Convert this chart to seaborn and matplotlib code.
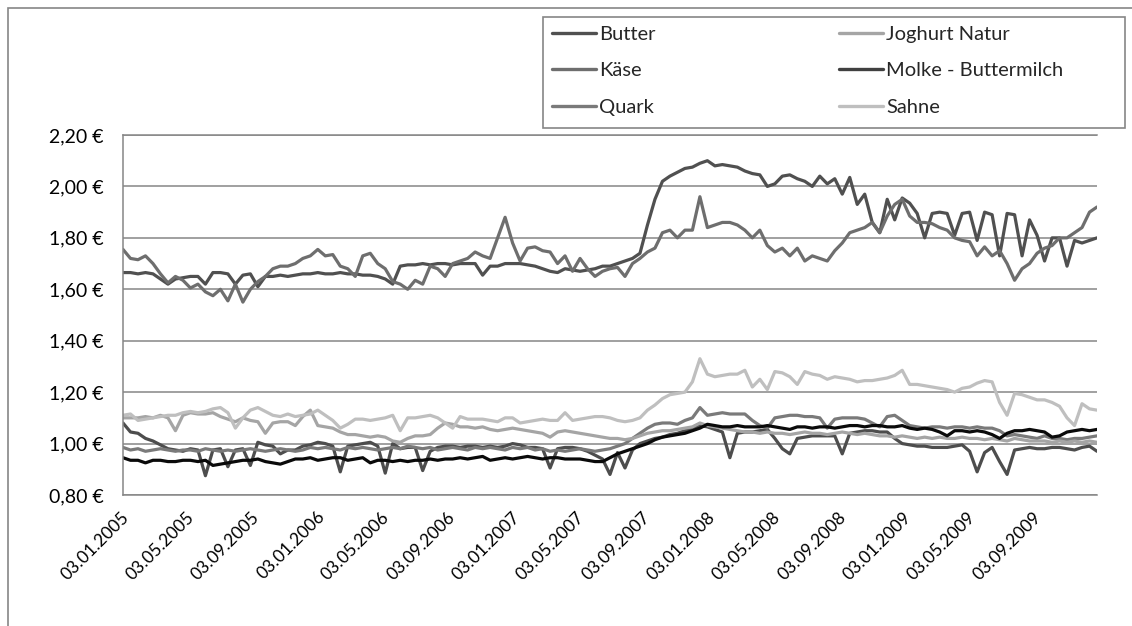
import pandas as pd
import numpy as np
import matplotlib
matplotlib.use("Agg")
import matplotlib.pyplot as plt
import matplotlib.dates as mdates
import matplotlib.transforms as mtransforms
from matplotlib.lines import Line2D
from matplotlib.patches import Rectangle
from matplotlib.ticker import FuncFormatter
import seaborn as sns

# biweekly prices, starting 03.01.2005
start = "2005-01-03"

butter = [
    1.665, 1.665, 1.66, 1.665, 1.66, 1.64, 1.62, 1.64, 1.645, 1.65,
    1.65, 1.62, 1.665, 1.665, 1.66, 1.62, 1.655, 1.66, 1.61, 1.65,
    1.65, 1.655, 1.65, 1.655, 1.66, 1.66, 1.665, 1.66, 1.66, 1.665,
    1.66, 1.66, 1.655, 1.655, 1.65, 1.64, 1.62, 1.69, 1.695, 1.695,
    1.70, 1.695, 1.70, 1.70, 1.695, 1.70, 1.70, 1.70, 1.655, 1.69,
    1.69, 1.70, 1.70, 1.70, 1.695, 1.69, 1.68, 1.67, 1.665, 1.68,
    1.675, 1.67, 1.675, 1.68, 1.69, 1.69, 1.70, 1.71, 1.72, 1.74,
    1.85, 1.95, 2.02, 2.04, 2.055, 2.07, 2.075, 2.09, 2.10, 2.08,
    2.085, 2.08, 2.075, 2.06, 2.05, 2.045, 2.00, 2.01, 2.04, 2.045,
    2.03, 2.02, 2.00, 2.04, 2.01, 2.03, 1.97, 2.035, 1.93, 1.97,
    1.86, 1.82, 1.95, 1.87, 1.955, 1.935, 1.895, 1.80, 1.895, 1.90,
    1.895, 1.81, 1.895, 1.90, 1.79, 1.90, 1.89, 1.73, 1.895, 1.89,
    1.73, 1.87, 1.81, 1.71, 1.80, 1.80, 1.69, 1.79, 1.78, 1.79,
    1.80,
]

kaese = [
    1.755, 1.72, 1.715, 1.73, 1.70, 1.66, 1.625, 1.65, 1.635, 1.605,
    1.62, 1.59, 1.575, 1.60, 1.555, 1.62, 1.55, 1.60, 1.63, 1.65,
    1.68, 1.69, 1.69, 1.70, 1.72, 1.73, 1.755, 1.73, 1.735, 1.69,
    1.68, 1.65, 1.73, 1.74, 1.70, 1.68, 1.63, 1.62, 1.60, 1.635,
    1.62, 1.69, 1.68, 1.65, 1.70, 1.71, 1.72, 1.745, 1.73, 1.72,
    1.80, 1.88, 1.78, 1.71, 1.76, 1.765, 1.75, 1.745, 1.70, 1.73,
    1.67, 1.72, 1.68, 1.65, 1.67, 1.68, 1.685, 1.65, 1.70, 1.72,
    1.745, 1.76, 1.82, 1.83, 1.80, 1.83, 1.83, 1.96, 1.84, 1.85,
    1.86, 1.86, 1.85, 1.83, 1.80, 1.83, 1.77, 1.745, 1.76, 1.73,
    1.76, 1.71, 1.73, 1.72, 1.71, 1.75, 1.78, 1.82, 1.83, 1.84,
    1.86, 1.82, 1.885, 1.93, 1.95, 1.885, 1.86, 1.86, 1.855, 1.84,
    1.83, 1.80, 1.79, 1.785, 1.73, 1.765, 1.73, 1.75, 1.70, 1.635,
    1.68, 1.70, 1.74, 1.76, 1.77, 1.80, 1.80, 1.82, 1.84, 1.90,
    1.92,
]

quark = [
    0.985, 0.975, 0.98, 0.97, 0.975, 0.98, 0.975, 0.97, 0.975, 0.975,
    0.97, 0.98, 0.975, 0.97, 0.975, 0.97, 0.975, 0.98, 0.975, 0.97,
    0.975, 0.98, 0.975, 0.97, 0.975, 0.985, 0.98, 0.985, 0.98, 0.975,
    0.985, 0.98, 0.985, 0.98, 0.975, 0.98, 0.985, 0.98, 0.99, 0.985,
    0.98, 0.985, 0.975, 0.98, 0.985, 0.98, 0.975, 0.985, 0.98, 0.985,
    0.98, 0.975, 0.985, 0.98, 0.985, 0.975, 0.98, 0.97, 0.975, 0.97,
    0.975, 0.98, 0.975, 0.97, 0.975, 0.98, 0.99, 1.00, 1.02, 1.04,
    1.06, 1.075, 1.08, 1.08, 1.075, 1.09, 1.10, 1.14, 1.11, 1.115,
    1.12, 1.115, 1.115, 1.115, 1.09, 1.07, 1.06, 1.10, 1.105, 1.11,
    1.11, 1.105, 1.105, 1.10, 1.06, 1.095, 1.10, 1.10, 1.10, 1.095,
    1.08, 1.065, 1.105, 1.11, 1.09, 1.07, 1.065, 1.06, 1.065, 1.065,
    1.06, 1.065, 1.065, 1.06, 1.065, 1.06, 1.06, 1.05, 1.03, 1.035,
    1.03, 1.025, 1.02, 1.03, 1.02, 1.02, 1.015, 1.02, 1.02, 1.025,
    1.03,
]

joghurt = [
    1.10, 1.10, 1.10, 1.105, 1.10, 1.11, 1.10, 1.05, 1.11, 1.12,
    1.115, 1.115, 1.12, 1.105, 1.095, 1.085, 1.10, 1.09, 1.085, 1.04,
    1.08, 1.085, 1.085, 1.07, 1.105, 1.13, 1.07, 1.065, 1.06, 1.045,
    1.035, 1.035, 1.03, 1.025, 1.03, 1.025, 1.01, 1.005, 1.02, 1.03,
    1.03, 1.035, 1.06, 1.08, 1.075, 1.065, 1.065, 1.06, 1.065, 1.055,
    1.05, 1.055, 1.06, 1.055, 1.05, 1.045, 1.04, 1.025, 1.045, 1.05,
    1.045, 1.04, 1.035, 1.03, 1.025, 1.02, 1.02, 1.015, 1.02, 1.03,
    1.04, 1.045, 1.05, 1.05, 1.055, 1.06, 1.065, 1.08, 1.07, 1.065,
    1.06, 1.055, 1.05, 1.045, 1.045, 1.04, 1.045, 1.04, 1.04, 1.035,
    1.04, 1.045, 1.04, 1.04, 1.035, 1.04, 1.045, 1.04, 1.035, 1.04,
    1.035, 1.03, 1.03, 1.025, 1.03, 1.025, 1.02, 1.025, 1.02, 1.025,
    1.02, 1.02, 1.025, 1.02, 1.02, 1.015, 1.02, 1.015, 1.01, 1.02,
    1.015, 1.01, 1.01, 1.01, 1.005, 1.01, 1.005, 1.01, 1.005, 1.01,
    1.005,
]

molke = [
    0.945, 0.935, 0.935, 0.925, 0.935, 0.935, 0.93, 0.93, 0.935, 0.935,
    0.93, 0.935, 0.915, 0.92, 0.925, 0.93, 0.935, 0.935, 0.94, 0.93,
    0.925, 0.92, 0.93, 0.94, 0.94, 0.945, 0.935, 0.94, 0.945, 0.945,
    0.935, 0.94, 0.945, 0.925, 0.935, 0.935, 0.93, 0.935, 0.93, 0.935,
    0.935, 0.94, 0.935, 0.94, 0.94, 0.945, 0.94, 0.945, 0.95, 0.935,
    0.94, 0.945, 0.94, 0.945, 0.95, 0.945, 0.94, 0.945, 0.945, 0.94,
    0.94, 0.94, 0.935, 0.93, 0.93, 0.945, 0.96, 0.97, 0.98, 0.99,
    1.00, 1.015, 1.025, 1.03, 1.035, 1.04, 1.05, 1.06, 1.075, 1.07,
    1.065, 1.065, 1.07, 1.065, 1.065, 1.065, 1.07, 1.065, 1.06, 1.055,
    1.065, 1.065, 1.06, 1.065, 1.065, 1.06, 1.065, 1.07, 1.07, 1.065,
    1.07, 1.07, 1.065, 1.065, 1.07, 1.06, 1.055, 1.06, 1.055, 1.045,
    1.03, 1.05, 1.05, 1.045, 1.05, 1.045, 1.035, 1.02, 1.04, 1.05,
    1.05, 1.055, 1.05, 1.045, 1.025, 1.03, 1.045, 1.05, 1.055, 1.05,
    1.055,
]

sahne = [
    1.11, 1.115, 1.09, 1.095, 1.10, 1.105, 1.11, 1.11, 1.12, 1.125,
    1.12, 1.125, 1.135, 1.14, 1.12, 1.06, 1.10, 1.13, 1.14, 1.125,
    1.11, 1.105, 1.115, 1.105, 1.11, 1.115, 1.13, 1.11, 1.09, 1.06,
    1.075, 1.095, 1.095, 1.09, 1.095, 1.10, 1.11, 1.05, 1.10, 1.10,
    1.105, 1.11, 1.10, 1.08, 1.06, 1.105, 1.095, 1.095, 1.095, 1.09,
    1.085, 1.10, 1.10, 1.08, 1.085, 1.09, 1.095, 1.09, 1.09, 1.12,
    1.09, 1.095, 1.10, 1.105, 1.105, 1.10, 1.09, 1.085, 1.09, 1.10,
    1.13, 1.15, 1.175, 1.19, 1.195, 1.20, 1.24, 1.33, 1.27, 1.26,
    1.265, 1.27, 1.27, 1.285, 1.22, 1.25, 1.21, 1.28, 1.275, 1.26,
    1.23, 1.28, 1.27, 1.265, 1.25, 1.26, 1.255, 1.25, 1.24, 1.245,
    1.245, 1.25, 1.255, 1.265, 1.285, 1.23, 1.23, 1.225, 1.22, 1.215,
    1.21, 1.20, 1.215, 1.22, 1.235, 1.245, 1.24, 1.16, 1.11, 1.195,
    1.19, 1.18, 1.17, 1.17, 1.16, 1.145, 1.10, 1.07, 1.155, 1.135,
    1.13,
]

# seventh line in the plot that has no entry in the legend box
ohne_legende = [
    1.08, 1.045, 1.04, 1.02, 1.01, 0.995, 0.98, 0.975, 0.97, 0.98,
    0.975, 0.875, 0.975, 0.98, 0.91, 0.975, 0.98, 0.915, 1.005, 0.995,
    0.99, 0.96, 0.975, 0.975, 0.99, 0.995, 1.005, 1.0, 0.99, 0.89,
    0.99, 0.995, 1.0, 1.005, 0.99, 0.885, 1.0, 0.98, 0.985, 0.985,
    0.895, 0.97, 0.985, 0.99, 0.99, 0.985, 0.99, 0.99, 0.985, 0.99,
    0.985, 0.99, 1.0, 0.995, 0.985, 0.985, 0.98, 0.905, 0.98, 0.985,
    0.985, 0.98, 0.97, 0.955, 0.94, 0.88, 0.965, 0.905, 0.975, 1.0,
    1.01, 1.02, 1.025, 1.035, 1.04, 1.05, 1.06, 1.07, 1.065, 1.055,
    1.045, 0.945, 1.04, 1.045, 1.045, 1.05, 1.055, 1.02, 0.98, 0.96,
    1.02, 1.025, 1.03, 1.03, 1.03, 1.03, 0.96, 1.04, 1.045, 1.05,
    1.05, 1.045, 1.045, 1.02, 1.0, 0.995, 0.99, 0.99, 0.985, 0.985,
    0.985, 0.99, 0.995, 0.97, 0.89, 0.965, 0.985, 0.93, 0.88, 0.975,
    0.98, 0.985, 0.98, 0.98, 0.985, 0.985, 0.98, 0.975, 0.985, 0.99,
    0.97,
]

series = {
    "_x": ohne_legende,
    "Butter": butter,
    "Käse": kaese,
    "Quark": quark,
    "Joghurt Natur": joghurt,
    "Sahne": sahne,
    "Molke - Buttermilch": molke,
}
line_colors = {
    "_x": "#4d4d4d",
    "Butter": "#505050",
    "Käse": "#6e6e6e",
    "Quark": "#7a7a7a",
    "Joghurt Natur": "#a5a5a5",
    "Sahne": "#bfbfbf",
    "Molke - Buttermilch": "#0a0a0a",
}
legend_order = ["Butter", "Käse", "Quark", "Joghurt Natur", "Molke - Buttermilch", "Sahne"]
legend_colors = ["#505050", "#6e6e6e", "#7a7a7a", "#a5a5a5", "#404040", "#bfbfbf"]

frames = []
for name, vals in series.items():
    dates = pd.date_range(start, periods=len(vals), freq="14D")
    frames.append(pd.DataFrame({"Datum": dates, "Preis": vals, "Produkt": name}))
df = pd.concat(frames, ignore_index=True)

sns.set_style("white")
plt.rcParams["font.family"] = ["Lato", "DejaVu Sans"]

W, H = 1132, 626
fig = plt.figure(figsize=(W / 100, H / 100), dpi=100)
ax = fig.add_axes([123 / W, 1 - 495 / H, (1097 - 123) / W, (495 - 135) / H])

sns.lineplot(data=df, x="Datum", y="Preis", hue="Produkt", hue_order=list(series.keys()),
             palette=line_colors, linewidth=2.3, estimator=None, legend=False, ax=ax)

ax.set_ylim(0.8, 2.2)
ax.set_xlim(pd.Timestamp(start), df["Datum"].max())
ax.set_yticks(np.arange(0.8, 2.21, 0.2))
ax.yaxis.set_major_formatter(FuncFormatter(lambda v, p: f"{v:.2f} €".replace(".", ",")))
ax.set_xticks(pd.date_range(start, periods=15, freq=pd.DateOffset(months=4)))
ax.xaxis.set_major_formatter(mdates.DateFormatter("%d.%m.%Y"))
ax.set_xlabel("")
ax.set_ylabel("")

ax.yaxis.grid(True, color="#868686", linewidth=1.1)
ax.set_axisbelow(True)
for side in ["left", "top", "bottom"]:
    ax.spines[side].set_color("#868686")
    ax.spines[side].set_linewidth(1.1)
ax.spines["right"].set_visible(False)

ax.tick_params(axis="y", length=0, pad=14, labelsize=14, colors="black")
ax.tick_params(axis="x", length=0, pad=14, labelsize=12.5, colors="black")
shift = mtransforms.ScaledTranslation(4 / 100, 0, fig.dpi_scale_trans)
for lbl in ax.get_xticklabels():
    lbl.set_rotation(45)
    lbl.set_ha("right")
    lbl.set_va("center")
    lbl.set_rotation_mode("anchor")
    lbl.set_transform(lbl.get_transform() + shift)

# legend entries without frame, frame drawn as its own box
handles = [Line2D([], [], color=c, linewidth=2.4) for c in legend_colors]
leg = fig.legend(handles, legend_order, loc="upper left",
                 bbox_to_anchor=(552 / W, 1 - 26 / H), borderaxespad=0,
                 ncol=2, fontsize=14.5, frameon=False, handlelength=2.2,
                 handletextpad=0.15, columnspacing=9.1, labelspacing=0.95,
                 borderpad=0)
fig.add_artist(Rectangle((543 / W, 1 - 128 / H), (1125 - 543) / W, (128 - 17) / H,
                         transform=fig.transFigure, fill=False,
                         edgecolor="#868686", linewidth=1.2))

# chart area border
fig.add_artist(Rectangle((8 / W, -0.1), 1.2, 1.1 - 8 / H, transform=fig.transFigure,
                         fill=False, edgecolor="#868686", linewidth=1.2))

fig.savefig("out.png", dpi=100)
